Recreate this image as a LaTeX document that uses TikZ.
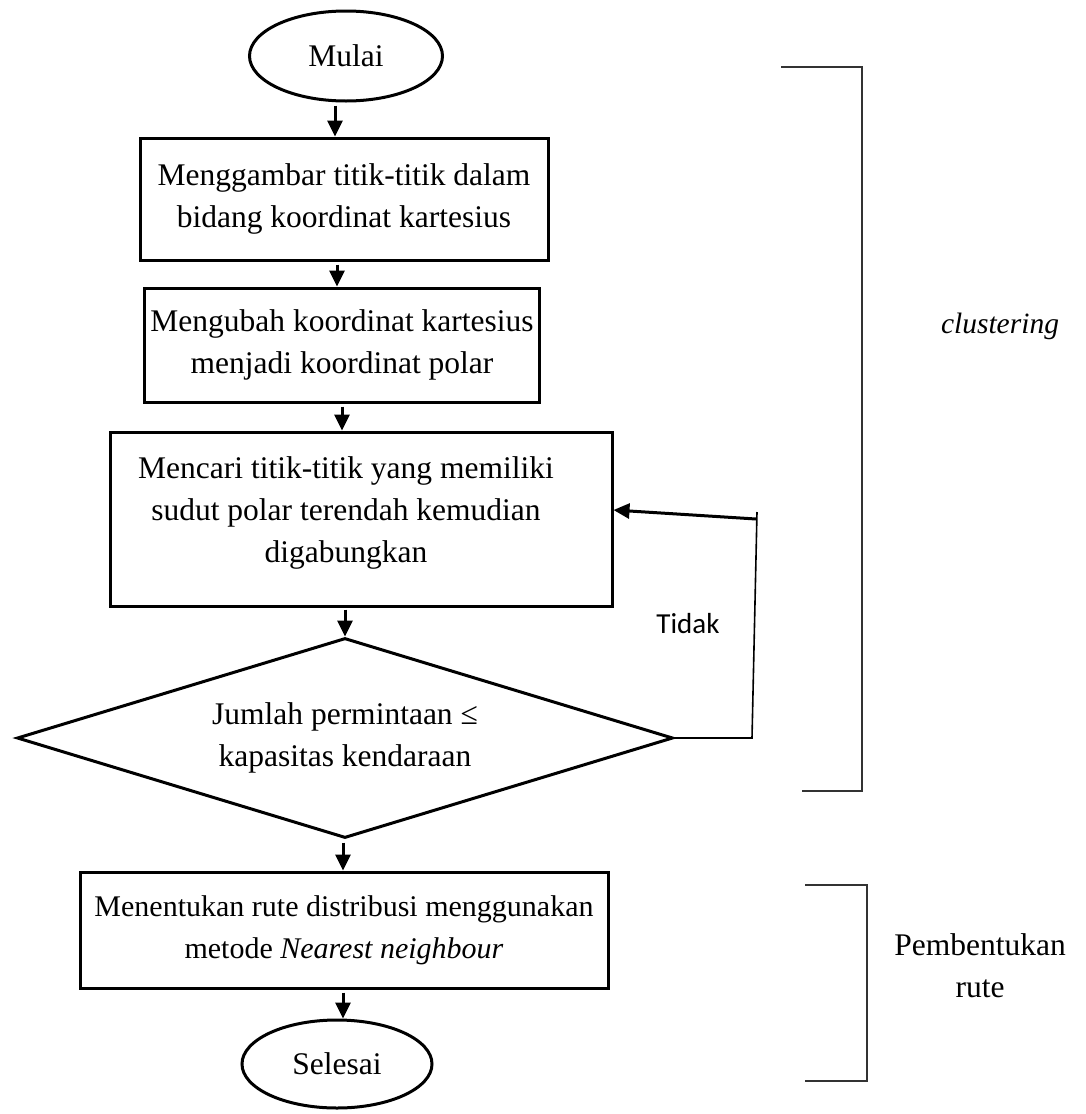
\documentclass[tikz,border=0pt]{standalone}
\usepackage{fontspec}
\setmainfont{Liberation Serif}
\newfontfamily\labelsans{Carlito}
\usetikzlibrary{shapes.geometric,arrows.meta}

\begin{document}
\begin{tikzpicture}[x=1pt,y=-1pt,
  every node/.style={font=\fontsize{31.5}{42}\selectfont, align=center, inner sep=0pt},
  stepbox/.style={draw, rectangle, line width=3pt},
  terminal/.style={draw, ellipse, line width=3pt},
  decision/.style={draw, diamond, line width=3pt},
  flow/.style={line width=3pt, -{Triangle[length=16pt,width=15pt]}},
  thinline/.style={line width=1.6pt},
  bracket/.style={line width=1.7pt, draw=black!80}]
\useasboundingbox (0,0) rectangle (1086,1114);

% flow steps
\node[terminal, minimum width=193pt, minimum height=90pt] (start) at (346,56) {Mulai};
\node[stepbox, minimum width=408pt, minimum height=122pt] (b1) at (344,199)
  {Menggambar titik-titik dalam\\bidang koordinat kartesius};
\node[stepbox, minimum width=395pt, minimum height=114pt] (b2) at (342,345)
  {Mengubah koordinat kartesius\\menjadi koordinat polar};
\node[stepbox, minimum width=502pt, minimum height=174pt] (b3) at (361,519) {};
\node (b3text) at (346,513)
  {Mencari titik-titik yang memiliki\\sudut polar terendah kemudian\\digabungkan};
\node[decision, minimum width=656pt, minimum height=200pt, aspect=3.28] (dec) at (345,738)
  {Jumlah permintaan ≤\\kapasitas kendaraan};
\node[stepbox, minimum width=528pt, minimum height=116pt,
      font=\fontsize{30}{42}\selectfont] (b4) at (344,930)
  {Menentukan rute distribusi menggunakan\\metode \textit{Nearest neighbour}};
\node[terminal, minimum width=190pt, minimum height=88pt] (stop) at (337,1064) {Selesai};

% connectors between steps
\draw[flow] ([xshift=-11pt,yshift=-3pt]start.south) -- ([xshift=-11pt]start.south |- b1.north);
\draw[flow] ([xshift=-7pt,yshift=-3pt]b1.south) -- ([xshift=-7pt]b1.south |- b2.north);
\draw[flow] ([xshift=0pt,yshift=-3pt]b2.south) -- ([xshift=0pt]b2.south |- b3.north);
\draw[flow] ([yshift=-2pt]b3.south -| dec.north) -- (dec.north);
\draw[flow] ([xshift=-2pt,yshift=-3pt]dec.south) -- ([xshift=-2pt]dec.south |- b4.north);
\draw[flow] ([xshift=-1pt,yshift=-3pt]b4.south) -- ([xshift=-1pt]b4.south |- stop.north);

% loop back when the demand exceeds capacity
\coordinate (fbA) at (752,738);
\coordinate (fbB) at (757,512);
\coordinate (fbC) at (756,519);
\draw[thinline] (dec.east) -- (fbA) -- (fbB);
\draw[flow] (fbC) -- ([yshift=9pt]b3.east);
\node[font=\labelsans\fontsize{29}{35}\selectfont] (tidak) at (688,624) {Tidak};

% phase brackets
\draw[bracket] (781,67) -- (862,67) -- (862,791) -- (802,791);
\node[font=\fontsize{29.5}{42}\selectfont\itshape] (clus) at (1000,326) {clustering};
\draw[bracket] (805,885) -- (867,885) -- (867,1081) -- (805,1081);
\node (rute) at (980,966) {Pembentukan\\rute};
\end{tikzpicture}
\end{document}
